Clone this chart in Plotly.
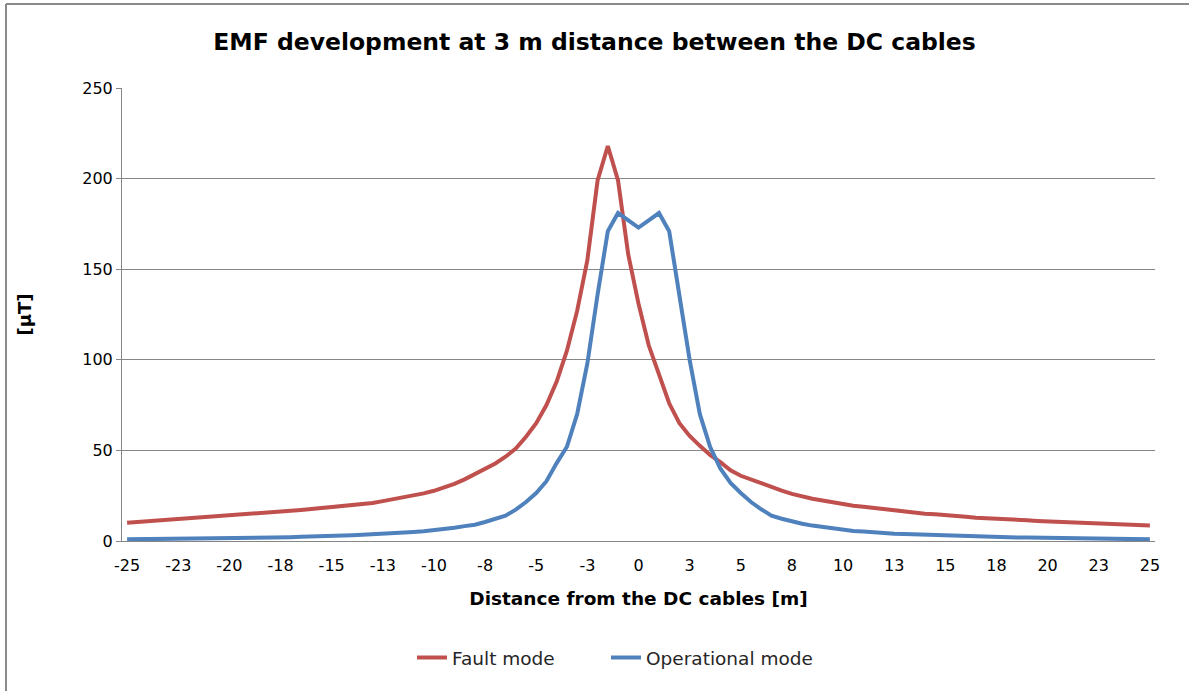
import plotly.graph_objects as go

# Distance from the DC cables [m], 0.5 m steps
distance = [-25 + 0.5 * i for i in range(101)]

fault_mode = [
    10.1, 10.5, 10.9, 11.2, 11.6, 11.9, 12.3, 12.7, 13.1, 13.4,
    13.8, 14.3, 14.8, 15.2, 15.6, 16.1, 16.6, 17.1, 17.6, 18.1,
    18.6, 19.1, 19.7, 20.3, 21.0, 22.0, 23.0, 24.0, 25.0, 26.3,
    27.7, 29.5, 31.5, 34.0, 36.8, 39.5, 42.8, 46.5, 51.0, 57.5,
    65.0, 75.0, 88.0, 105.0, 127.0, 155.0, 199.0, 218.0, 199.0, 158.0,
    131.0, 108.0, 92.0, 76.0, 65.0, 58.0, 52.5, 47.5, 43.5, 39.0,
    36.0, 33.8, 31.8, 29.8, 27.8, 26.0, 24.5, 23.3, 22.3, 21.3,
    20.4, 19.5, 18.9, 18.2, 17.6, 16.8, 16.2, 15.6, 15.1, 14.7,
    14.4, 13.9, 13.4, 12.9, 12.5, 12.3, 12.1, 11.7, 11.4, 11.1,
    10.9, 10.5, 10.2, 9.9, 9.7, 9.5, 9.4, 9.3, 9.2, 9.0,
    8.6,
]

operational_mode = [
    0.9, 0.95, 1.0, 1.05, 1.1, 1.15, 1.2, 1.25, 1.3, 1.4,
    1.5, 1.6, 1.7, 1.8, 1.9, 2.0, 2.1, 2.3, 2.4, 2.6,
    2.8, 3.0, 3.2, 3.5, 3.7, 4.0, 4.2, 4.6, 5.0, 5.4,
    5.9, 6.6, 7.3, 8.2, 9.0, 10.5, 12.0, 14.0, 17.3, 21.5,
    26.5, 33.0, 43.0, 52.0, 70.0, 98.0, 136.0, 171.0, 181.0, 177.0,
    173.0, 177.0, 181.0, 171.0, 137.0, 100.0, 70.0, 52.0, 40.0, 32.0,
    26.5, 21.5, 17.5, 14.0, 12.3, 10.8, 9.5, 8.5, 7.7, 6.8,
    6.0, 5.5, 5.2, 4.7, 4.2, 4.0, 3.8, 3.6, 3.4, 3.1,
    2.9, 2.7, 2.6, 2.4, 2.2, 2.1, 2.0, 2.0, 2.0, 1.9,
    1.8, 1.5, 1.3, 1.2, 1.1, 1.0, 1.0, 1.0, 1.0, 0.95,
    0.9,
]

tick_vals = [-25 + 2.5 * i for i in range(21)]
tick_text = ["-25", "-23", "-20", "-18", "-15", "-13", "-10", "-8", "-5", "-3",
             "0", "3", "5", "8", "10", "13", "15", "18", "20", "23", "25"]

y_ticks = [0, 50, 100, 150, 200, 250]

FONT = "DejaVu Sans"

fig = go.Figure()
fig.add_trace(go.Scatter(x=distance, y=fault_mode, mode="lines", name="Fault mode",
                         line=dict(color="#C0504D", width=4), legend="legend"))
fig.add_trace(go.Scatter(x=distance, y=operational_mode, mode="lines", name="Operational mode",
                         line=dict(color="#4F81BD", width=4), legend="legend2"))

legend_common = dict(orientation="h", xanchor="left", y=-0.258, yanchor="middle",
                     font=dict(family=FONT, size=18.5, color="#262626"),
                     bgcolor="rgba(0,0,0,0)")

fig.update_layout(
    width=1189, height=691,
    margin=dict(l=122, r=34, t=88, b=150),
    paper_bgcolor="white", plot_bgcolor="white",
    font=dict(family=FONT, size=16, color="#000000"),
    title=dict(text="<b>EMF development at 3 m distance between the DC cables</b>",
               x=0.5, xref="container", xanchor="center", y=0.94, yanchor="middle",
               font=dict(family=FONT, size=23.5, color="#000000")),
    showlegend=True,
    legend=dict(x=(412 - 122) / 1033, **legend_common),
    legend2=dict(x=(606 - 122) / 1033, **legend_common),
    xaxis=dict(range=[-25.25, 25.25], tickvals=tick_vals, ticktext=tick_text,
               showgrid=False, zeroline=False, showline=True, linecolor="#868686",
               linewidth=1, ticks="", ticklabelstandoff=10,
               tickfont=dict(family=FONT, size=16, color="#000000"),
               title=dict(text="<b>Distance from the DC cables [m]</b>", standoff=17,
                          font=dict(family=FONT, size=18.5, color="#000000"))),
    yaxis=dict(range=[0, 250], tickvals=y_ticks, showgrid=True, gridcolor="#868686",
               gridwidth=1, zeroline=False, showline=True, linecolor="#868686",
               linewidth=1, ticks="outside", ticklen=5, tickcolor="#868686",
               tickfont=dict(family=FONT, size=16, color="#000000"),
               title=dict(text="<b>[µT]</b>", standoff=45,
                          font=dict(family=FONT, size=18, color="#000000"))),
)

# outer chart frame (left and top edges visible in the reference)
fig.add_shape(type="line", xref="paper", yref="paper",
              x0=(6 - 122) / 1033, x1=(6 - 122) / 1033,
              y0=(541 - 700) / 453, y1=1 + (88 - 4) / 453,
              line=dict(color="#8A8A8A", width=2))
fig.add_shape(type="line", xref="paper", yref="paper",
              x0=(6 - 122) / 1033, x1=(1200 - 122) / 1033,
              y0=1 + (88 - 4) / 453, y1=1 + (88 - 4) / 453,
              line=dict(color="#8A8A8A", width=2))

fig.write_html("out.html", config={"displayModeBar": False},
               post_script="document.body.style.margin='0';")
